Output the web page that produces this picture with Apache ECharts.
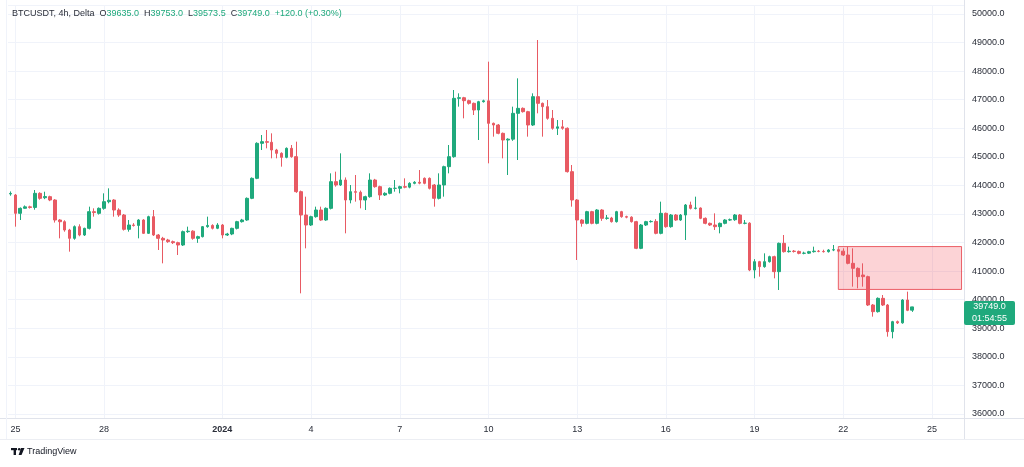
<!DOCTYPE html>
<html>
<head>
<meta charset="utf-8">
<script src="https://cdn.jsdelivr.net/npm/echarts@6/dist/echarts.min.js"></script>
<style>
html,body{margin:0;padding:0;background:#fff;}
#c{width:1024px;height:467px;}
</style>
</head>
<body>
<div id="c"></div>
<script>
// ---- data ----
const symbolTitle = 'BTCUSDT, 4h, Delta';
const startTimeUTC = Date.UTC(2023, 11, 24, 20, 0); // first bar
const barHours = 4;
const totalSlots = 194; // bars + empty space to the right
// [open, close, low, high]
const candles = [
[43700,43720,43640,43790],[43665,43023,42557,43700],[43023,43198,42790,43230],[43200,43250,43180,43300],
[43250,43230,43190,43290],[43230,43723,43150,43840],[43723,43548,43500,43760],[43570,43610,43520,43780],
[43607,43490,43450,43640],[43490,42790,42700,43520],[42790,42730,42148,42820],[42730,42440,42380,42780],
[42440,42148,41682,42480],[42148,42557,42100,42600],[42557,42265,42220,42640],[42265,42498,42230,42520],
[42498,43082,42460,43257],[43082,43050,42907,43198],[43023,43198,42980,43230],[43198,43432,43150,43723],
[43430,43480,43373,43898],[43490,43140,42907,43520],[43140,42965,42900,43200],[42965,42463,42420,43000],
[42463,42615,42382,42790],[42615,42600,42560,42680],[42600,42790,42148,42820],[42790,42323,42300,42820],
[42323,42907,42300,42940],[42907,42265,42230,43140],[42265,42148,41740,42300],[42148,42090,41273,42200],
[42090,42032,41990,42130],[42032,41997,41950,42070],[41997,41915,41565,42030],[41915,42382,41880,42420],
[42382,42400,42340,42557],[42400,42148,42100,42430],[42148,42207,41990,42240],[42207,42557,42180,42580],
[42557,42600,42520,42907],[42600,42500,42460,42640],[42500,42615,42470,42680],[42615,42265,42148,42650],
[42265,42300,42230,42340],[42300,42498,42260,42520],[42498,42732,42460,42760],[42732,42790,42700,42830],
[42790,43548,42760,43580],[43548,44248,43520,44280],[44248,45473,44220,45510],[45473,45532,45240,45765],
[45532,45510,45298,45940],[45510,45240,44948,45823],[45240,45123,44948,45280],[45123,44983,44657,45160],
[44983,45298,44950,45330],[45298,45007,44970,45415],[45007,43782,43740,45532],[43782,42965,40223,43820],
[42965,42615,41798,43607],[42615,42907,42580,42940],[42907,43140,42870,43257],[43140,42790,42760,43257],
[42790,43198,42760,43230],[43198,44132,43160,44423],[44132,44015,43957,44482],[44015,44190,43980,45123],
[44190,43490,42323,44280],[43490,43782,43373,44015],[43782,43760,43432,44365],[43760,43490,43198,43820],
[43490,43607,43140,43640],[43607,44190,43570,44423],[44190,43957,43920,44230],[43957,43665,43490,43990],
[43665,43723,43630,43760],[43723,43898,43690,43930],[43898,43900,43782,44190],[43900,43957,43723,43990],
[43957,43940,43900,44248],[43940,44073,43900,44110],[44073,44110,44040,44150],[44110,44080,44040,44540],
[44248,44073,44040,44280],[44248,43898,43860,44280],[44015,43548,43257,44050],[43548,44015,43510,44423],
[44015,44657,43607,44690],[44657,45007,44423,45415],[45007,47048,44970,47340],[47048,47070,46757,47223],
[47070,46967,46348,47100],[46967,46873,46830,47000],[46873,46640,46465,46900],[46640,46932,45590,46960],
[46932,46960,46900,47000],[46960,46173,44773,48332],[46173,46115,45707,46200],[46115,45823,45790,46150],
[45823,45590,44948,45850],[45590,45620,44365,45650],[45620,46523,45560,46757],[46523,46698,44890,47748],
[46698,46582,46550,46730],[46582,46115,45707,46610],[46115,47107,46080,47223],[47107,46873,46523,49090],
[46873,46757,45707,46900],[46757,46348,46300,46990],[46348,46000,45950,46640],[46000,46050,45765,46290],
[46050,46000,45950,46290],[46000,44482,44450,46030],[44482,43490,43257,44715],[43490,42790,41390,43520],
[42790,42673,42557,42820],[42673,43082,42640,43110],[43082,42673,42640,43110],[42673,43140,42640,43170],
[43140,42848,42760,43170],[42848,42860,42800,42965],[42860,42732,42700,42900],[42732,43082,42700,43110],
[43082,42907,42870,43110],[42907,42890,42850,42940],[42890,42732,42700,42920],[42732,41798,41770,42760],
[41798,42615,41770,42650],[42615,42732,42580,42760],[42732,42740,42700,42780],[42740,42323,42290,42820],
[42323,43023,42290,43432],[43023,42557,42520,43050],[42557,42965,42520,43000],[42965,42790,42760,43000],
[42790,42965,42760,43000],[42965,43315,42090,43350],[43315,43198,43160,43432],[43198,43210,43160,43607],
[43210,42848,42820,43230],[42848,42673,42640,42880],[42673,42615,42580,42700],[42615,42557,42440,43023],
[42557,42673,42323,42700],[42673,42790,42640,42820],[42790,42800,42760,42840],[42800,42965,42760,43000],
[42965,42673,42640,43000],[42673,42680,42640,42790],[42680,41040,41000,42710],[41040,41332,40748,41420],
[41332,41157,40807,41360],[41157,41332,41120,41623],[41332,41507,41300,41540],[41507,40982,40748,41540],
[40982,41973,40340,42000],[41973,41682,41650,42265],[41682,41700,41650,41857],[41700,41690,41650,41740],
[41690,41623,41590,41720],[41623,41630,41590,41680],[41630,41682,41600,41710],[41682,41700,41650,41857],
[41700,41690,41660,41740],[41690,41682,41650,41750],[41682,41740,41650,41770],[41740,41750,41700,41915],
[41750,41700,41660,41770],[41700,41565,41530,41798],[41565,41273,41240,41857],[41273,41098,40457,41798],
[41098,40807,40398,41130],[40865,40807,40457,41273],[40807,39815,39780,40840],[39815,39582,39407,39850],
[39582,40048,39550,40080],[40048,39815,39780,40165],[39815,38882,38707,39850],[38882,39232,38648,39260],
[39232,39190,39150,39270],[39190,39990,39160,40020],[39990,39629,39600,40282],[39635,39749,39573.5,39753]
];
const tickDates = ['2023-12-25','2023-12-28','2024-01-01','2024-01-04','2024-01-07','2024-01-10','2024-01-13','2024-01-16','2024-01-19','2024-01-22','2024-01-25'];
const tickLabels = ['25','28','2024','4','7','10','13','16','19','22','25'];
const zoneStartBar = 168;
const zoneHigh = 41860;
const zoneLow = 40360;
const countdown = '01:54:55';
const yMin = 35860, yMax = 50315;

// ---- build ----
function fmt(t){
  const d = new Date(t);
  const p = n => String(n).padStart(2,'0');
  return d.getUTCFullYear()+'-'+p(d.getUTCMonth()+1)+'-'+p(d.getUTCDate())+' '+p(d.getUTCHours())+':00';
}
const categories = [];
for (let i=0;i<totalSlots;i++) categories.push(fmt(startTimeUTC + i*barHours*3600000));
const tickMap = {};
tickDates.forEach((d,k)=>{ tickMap[d+' 00:00'] = tickLabels[k]; });
const isTick = (idx) => tickMap[categories[idx]] !== undefined;

const UP = '#1fa97c', DOWN = '#e85a63';
const FONT = '"Liberation Sans",Arial,sans-serif';
const FS = 9;

const last = candles[candles.length-1];
const prevClose = candles[candles.length-2][1];
const chg = last[1]-prevClose;
const pct = chg/prevClose*100;
const sgn = v => (v>=0?'+':'') ;
const headerText = '{n|'+symbolTitle+'}  {k|O}{v|'+last[0].toFixed(1)+'}  {k|H}{v|'+last[3].toFixed(1)+'}  {k|L}{v|'+last[2].toFixed(1)+'}  {k|C}{v|'+last[1].toFixed(1)+'}  {v|'+sgn(chg)+chg.toFixed(1)+' ('+sgn(pct)+pct.toFixed(2)+'%)}';

const chart = echarts.init(document.getElementById('c'), null, {renderer:'canvas'});
chart.setOption({
  animation:false,
  backgroundColor:'#ffffff',
  title:{
    left:12, top:9, padding:0,
    text: headerText,
    textStyle:{
      fontFamily:FONT, fontSize:FS, fontWeight:'normal',
      rich:{
        n:{color:'#2a2e39', fontFamily:FONT, fontSize:FS},
        k:{color:'#2a2e39', fontFamily:FONT, fontSize:FS},
        v:{color:UP, fontFamily:FONT, fontSize:FS}
      }
    }
  },
  grid:{left:8, right:60, top:5, bottom:49, containLabel:false},
  xAxis:{
    type:'category', data:categories, boundaryGap:true,
    axisLine:{show:false}, axisTick:{show:false, alignWithLabel:true, interval:(i)=>isTick(i)},
    axisLabel:{
      interval:(i)=>isTick(i), margin:7, color:'#2a2e39', fontFamily:FONT, fontSize:FS,
      formatter:(v)=> tickMap[v]==='2024' ? '{b|2024}' : (tickMap[v]||''),
      rich:{b:{fontWeight:'bold', color:'#2a2e39', fontFamily:FONT, fontSize:FS}}
    },
    splitLine:{show:true, alignWithLabel:true, interval:(i)=>isTick(i), lineStyle:{color:'#f0f3fa', width:1}}
  },
  yAxis:{
    type:'value', position:'right', scale:true, min:yMin, max:yMax,
    splitNumber:14, minInterval:1000, maxInterval:1000,
    axisLine:{show:false}, axisTick:{show:false},
    axisLabel:{margin:8, align:'left', color:'#2a2e39', fontFamily:FONT, fontSize:FS,
      formatter:(v)=> (Math.round(v)%1000===0 ? v.toFixed(1) : '')},
    splitLine:{show:true, lineStyle:{color:'#f0f3fa', width:1}}
  },
  series:[{
    type:'candlestick', name:'BTCUSDT', data:candles, barWidth:'64%',
    itemStyle:{color:UP, color0:DOWN, borderColor:UP, borderColor0:DOWN, borderWidth:1},
    markArea:{
      silent:true,
      itemStyle:{color:'rgba(242,54,69,0.22)', borderColor:'rgba(232,70,80,0.85)', borderWidth:1},
      data:[[{coord:[zoneStartBar, zoneHigh]},{coord:[totalSlots-1, zoneLow]}]]
    }
  }]
});

// price tag + frame via library coordinates
const py = chart.convertToPixel({yAxisIndex:0}, last[1]);
chart.setOption({
  graphic:[
    {type:'line', shape:{x1:0,y1:418.5,x2:1024,y2:418.5}, style:{stroke:'#e0e3eb', lineWidth:1}, silent:true},
    {type:'line', shape:{x1:0,y1:439.5,x2:1024,y2:439.5}, style:{stroke:'#eceef3', lineWidth:1}, silent:true},
    {type:'line', shape:{x1:964.5,y1:0,x2:964.5,y2:439}, style:{stroke:'#e0e3eb', lineWidth:1}, silent:true},
    {type:'line', shape:{x1:6.5,y1:0,x2:6.5,y2:439}, style:{stroke:'#f0f3fa', lineWidth:1}, silent:true},
    {type:'rect', shape:{x:964, y:py-6, width:51, height:24, r:2}, style:{fill:UP}, z:10},
    {type:'text', x:989.5, y:py, style:{text:last[1].toFixed(1), fill:'#fff', font:FS+'px '+FONT, align:'center', verticalAlign:'middle'}, z:11},
    {type:'text', x:989.5, y:py+12, style:{text:countdown, fill:'#fff', font:FS+'px '+FONT, align:'center', verticalAlign:'middle'}, z:11},
    // TradingView logo
    {type:'rect', shape:{x:11, y:448, width:6, height:2.2}, style:{fill:'#131722'}},
    {type:'rect', shape:{x:13.6, y:448, width:2.4, height:7}, style:{fill:'#131722'}},
    {type:'circle', shape:{cx:19.2, cy:449.2, r:1.3}, style:{fill:'#131722'}},
    {type:'polygon', shape:{points:[[21,448],[24.5,448],[21.5,455],[18.6,455]]}, style:{fill:'#131722'}},
    {type:'text', x:27, y:452, style:{text:'TradingView', fill:'#131722', font:FS+'px '+FONT, verticalAlign:'middle'}}
  ]
});
</script>
</body>
</html>
